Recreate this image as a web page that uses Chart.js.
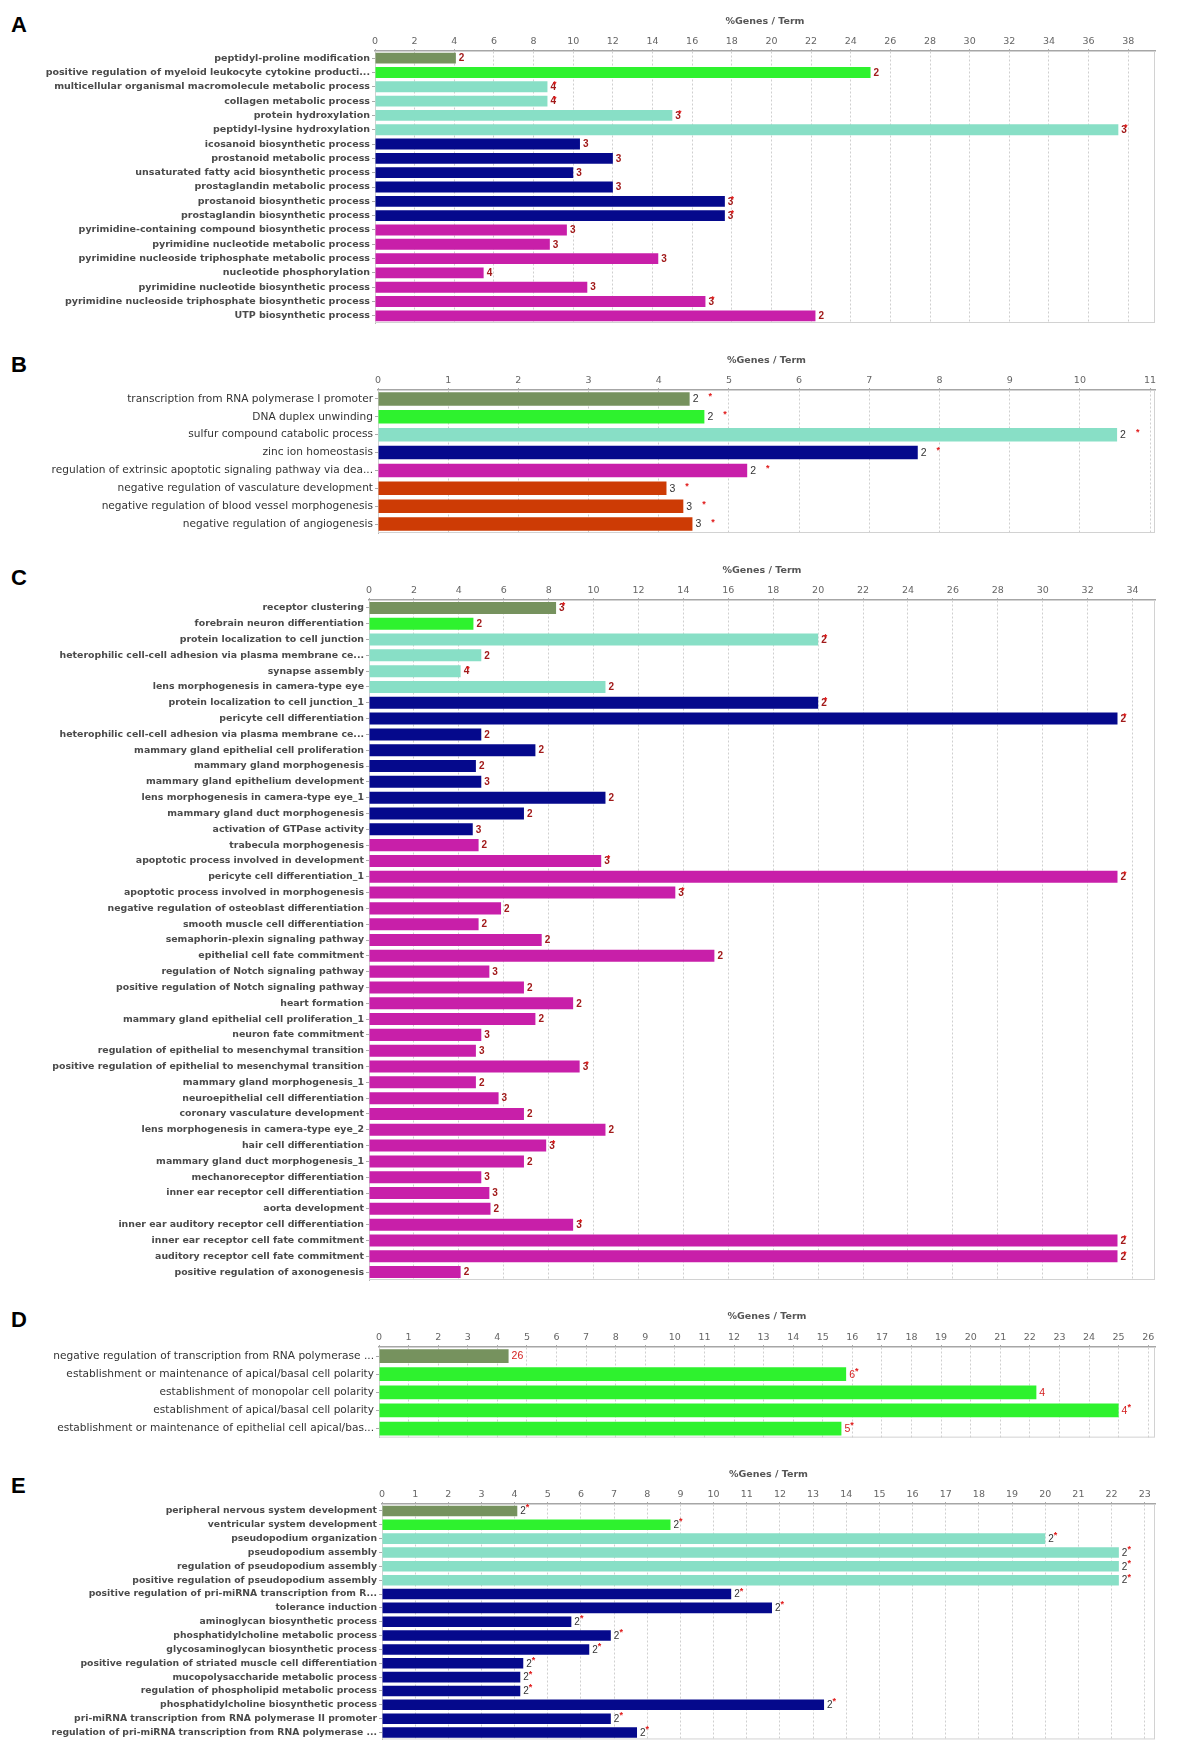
<!DOCTYPE html>
<html>
<head>
<meta charset="utf-8">
<title>GO term enrichment</title>
<script src="https://cdn.jsdelivr.net/npm/chart.js@4.4.1/dist/chart.umd.min.js"></script>
<style>
    html, body { margin: 0; padding: 0; background: #fff; }
    #page { position: relative; width: 1177px; height: 1747px; overflow: hidden; }
    .panel { position: absolute; left: 0; }
    .letter { position: absolute; left: 11px; font: bold 22px "Liberation Sans", Arial, sans-serif; line-height: 22px; color: #000; }
</style>
</head>
<body>
<div id="page">
    <div class="letter" style="top:14px">A</div>
    <div class="letter" style="top:354px">B</div>
    <div class="letter" style="top:567px">C</div>
    <div class="letter" style="top:1309px">D</div>
    <div class="letter" style="top:1475px">E</div>
    <canvas id="chartA" class="panel"></canvas>
    <canvas id="chartB" class="panel"></canvas>
    <canvas id="chartC" class="panel"></canvas>
    <canvas id="chartD" class="panel"></canvas>
    <canvas id="chartE" class="panel"></canvas>
</div>
<script>
// cluster index -> 0 olive, 1 green, 2 aqua, 3 navy, 4 magenta, 5 orange
const termsA = [
    "peptidyl-proline modification",
    "positive regulation of myeloid leukocyte cytokine producti...",
    "multicellular organismal macromolecule metabolic process",
    "collagen metabolic process",
    "protein hydroxylation",
    "peptidyl-lysine hydroxylation",
    "icosanoid biosynthetic process",
    "prostanoid metabolic process",
    "unsaturated fatty acid biosynthetic process",
    "prostaglandin metabolic process",
    "prostanoid biosynthetic process",
    "prostaglandin biosynthetic process",
    "pyrimidine-containing compound biosynthetic process",
    "pyrimidine nucleotide metabolic process",
    "pyrimidine nucleoside triphosphate metabolic process",
    "nucleotide phosphorylation",
    "pyrimidine nucleotide biosynthetic process",
    "pyrimidine nucleoside triphosphate biosynthetic process",
    "UTP biosynthetic process",
];
const valuesA = [4.08, 25.0, 8.7, 8.7, 15.0, 37.5, 10.34, 12.0, 10.0, 12.0, 17.65, 17.65, 9.68, 8.82, 14.29, 5.48, 10.71, 16.67, 22.22];
const countsA = [2, 2, 4, 4, 3, 3, 3, 3, 3, 3, 3, 3, 3, 3, 3, 4, 3, 3, 2];
const starsA = [0, 0, 1, 1, 1, 1, 0, 0, 0, 0, 1, 1, 0, 0, 0, 0, 0, 1, 0];
const clusterA = [0, 1, 2, 2, 2, 2, 3, 3, 3, 3, 3, 3, 4, 4, 4, 4, 4, 4, 4];

const termsB = [
    "transcription from RNA polymerase I promoter",
    "DNA duplex unwinding",
    "sulfur compound catabolic process",
    "zinc ion homeostasis",
    "regulation of extrinsic apoptotic signaling pathway via dea...",
    "negative regulation of vasculature development",
    "negative regulation of blood vessel morphogenesis",
    "negative regulation of angiogenesis",
];
const valuesB = [4.44, 4.65, 10.53, 7.69, 5.26, 4.11, 4.35, 4.48];
const countsB = [2, 2, 2, 2, 2, 3, 3, 3];
const starsB = [1, 1, 1, 1, 1, 1, 1, 1];
const clusterB = [0, 1, 2, 3, 4, 5, 5, 5];

const termsC = [
    "receptor clustering",
    "forebrain neuron differentiation",
    "protein localization to cell junction",
    "heterophilic cell-cell adhesion via plasma membrane ce...",
    "synapse assembly",
    "lens morphogenesis in camera-type eye",
    "protein localization to cell junction_1",
    "pericyte cell differentiation",
    "heterophilic cell-cell adhesion via plasma membrane ce...",
    "mammary gland epithelial cell proliferation",
    "mammary gland morphogenesis",
    "mammary gland epithelium development",
    "lens morphogenesis in camera-type eye_1",
    "mammary gland duct morphogenesis",
    "activation of GTPase activity",
    "trabecula morphogenesis",
    "apoptotic process involved in development",
    "pericyte cell differentiation_1",
    "apoptotic process involved in morphogenesis",
    "negative regulation of osteoblast differentiation",
    "smooth muscle cell differentiation",
    "semaphorin-plexin signaling pathway",
    "epithelial cell fate commitment",
    "regulation of Notch signaling pathway",
    "positive regulation of Notch signaling pathway",
    "heart formation",
    "mammary gland epithelial cell proliferation_1",
    "neuron fate commitment",
    "regulation of epithelial to mesenchymal transition",
    "positive regulation of epithelial to mesenchymal transition",
    "mammary gland morphogenesis_1",
    "neuroepithelial cell differentiation",
    "coronary vasculature development",
    "lens morphogenesis in camera-type eye_2",
    "hair cell differentiation",
    "mammary gland duct morphogenesis_1",
    "mechanoreceptor differentiation",
    "inner ear receptor cell differentiation",
    "aorta development",
    "inner ear auditory receptor cell differentiation",
    "inner ear receptor cell fate commitment",
    "auditory receptor cell fate commitment",
    "positive regulation of axonogenesis",
];
const valuesC = [8.33, 4.65, 20.0, 5.0, 4.08, 10.53, 20.0, 33.33, 5.0, 7.41,
    4.76, 5.0, 10.53, 6.9, 4.62, 4.88, 10.34, 33.33, 13.64, 5.88,
    4.88, 7.69, 15.38, 5.36, 6.9, 9.09, 7.41, 5.0, 4.76, 9.38,
    4.76, 5.77, 6.9, 10.53, 7.89, 6.9, 5.0, 5.36, 5.41, 9.09,
    33.33, 33.33, 4.08];
const countsC = [3, 2, 2, 2, 4, 2, 2, 2, 2, 2,
    2, 3, 2, 2, 3, 2, 3, 2, 3, 2,
    2, 2, 2, 3, 2, 2, 2, 3, 3, 3,
    2, 3, 2, 2, 3, 2, 3, 3, 2, 3,
    2, 2, 2];
const starsC = [1, 0, 1, 0, 1, 0, 1, 1, 0, 0,
    0, 0, 0, 0, 0, 0, 1, 1, 1, 0,
    0, 0, 0, 0, 0, 0, 0, 0, 0, 1,
    0, 0, 0, 0, 1, 0, 0, 0, 0, 1,
    1, 1, 0];
const clusterC = [0, 1, 2, 2, 2, 2, 3, 3, 3, 3,
    3, 3, 3, 3, 3, 4, 4, 4, 4, 4,
    4, 4, 4, 4, 4, 4, 4, 4, 4, 4,
    4, 4, 4, 4, 4, 4, 4, 4, 4, 4,
    4, 4, 4];

const termsD = [
    "negative regulation of transcription from RNA polymerase ...",
    "establishment or maintenance of apical/basal cell polarity",
    "establishment of monopolar cell polarity",
    "establishment of apical/basal cell polarity",
    "establishment or maintenance of epithelial cell apical/bas...",
];
const valuesD = [4.38, 15.79, 22.22, 25.0, 15.63];
const countsD = [26, 6, 4, 4, 5];
const starsD = [0, 1, 0, 1, 1];
const clusterD = [0, 1, 1, 1, 1];

const termsE = [
    "peripheral nervous system development",
    "ventricular system development",
    "pseudopodium organization",
    "pseudopodium assembly",
    "regulation of pseudopodium assembly",
    "positive regulation of pseudopodium assembly",
    "positive regulation of pri-miRNA transcription from R...",
    "tolerance induction",
    "aminoglycan biosynthetic process",
    "phosphatidylcholine metabolic process",
    "glycosaminoglycan biosynthetic process",
    "positive regulation of striated muscle cell differentiation",
    "mucopolysaccharide metabolic process",
    "regulation of phospholipid metabolic process",
    "phosphatidylcholine biosynthetic process",
    "pri-miRNA transcription from RNA polymerase II promoter",
    "regulation of pri-miRNA transcription from RNA polymerase ...",
];
const valuesE = [4.08, 8.7, 20.0, 22.22, 22.22, 22.22, 10.53, 11.76, 5.71, 6.9, 6.25, 4.26, 4.17, 4.17, 13.33, 6.9, 7.69];
const countsE = [2, 2, 2, 2, 2, 2, 2, 2, 2, 2, 2, 2, 2, 2, 2, 2, 2];
const starsE = [1, 1, 1, 1, 1, 1, 1, 1, 1, 1, 1, 1, 1, 1, 1, 1, 1];
const clusterE = [0, 1, 2, 2, 2, 2, 3, 3, 3, 3, 3, 3, 3, 3, 3, 3, 3];

const axisTitle = "%Genes / Term";

const clusterColors = ["#76925e", "#2ef22e", "#88dfc6", "#05098c", "#c81fa9", "#cd3b05"];

const plotFrame = {
    id: "plotFrame",
    beforeDatasetsDraw(chart) {
        const { ctx, chartArea: a } = chart;
        ctx.save();
        ctx.strokeStyle = "#d2d2d2";
        ctx.lineWidth = 1;
        ctx.strokeRect(a.left + 0.5, a.top + 0.5, a.right - a.left - 1, a.bottom - a.top - 1);
        ctx.restore();
    },
};

const barCounts = {
    id: "barCounts",
    afterDatasetsDraw(chart, args, opts) {
        const ctx = chart.ctx;
        const meta = chart.getDatasetMeta(0);
        ctx.save();
        ctx.textBaseline = "middle";
        ctx.textAlign = "left";
        meta.data.forEach((bar, i) => {
            const txt = String(opts.counts[i]);
            const x = bar.x + opts.gap;
            ctx.font = opts.font;
            ctx.fillStyle = opts.color;
            ctx.fillText(txt, x, bar.y + 0.5);
            if (opts.stars[i]) {
                const w = ctx.measureText(txt).width;
                ctx.font = opts.starFont;
                ctx.fillStyle = opts.starColor;
                ctx.fillText("*", x + w + opts.starGap, bar.y + opts.starDy);
            }
        });
        ctx.restore();
    },
};

function makePanel(id, p) {
    const canvas = document.getElementById(id);
    canvas.width = 1177;
    canvas.height = p.bottom - p.top;
    canvas.style.top = p.top + "px";

    new Chart(canvas, {
        type: "bar",
        data: {
            labels: p.terms,
            datasets: [
                {
                    data: p.values,
                    backgroundColor: p.cluster.map((c) => clusterColors[c]),
                    borderWidth: 0,
                    barPercentage: 0.76,
                    categoryPercentage: 1,
                },
            ],
        },
        options: {
            indexAxis: "y",
            responsive: false,
            animation: false,
            events: [],
            layout: {
                padding: { left: 0, top: 0, right: 1177 - p.plotRight, bottom: p.bottom - p.plotBottom },
            },
            plugins: {
                legend: { display: false },
                tooltip: { enabled: false },
                barCounts: {
                    counts: p.counts,
                    stars: p.stars,
                    font: p.countFont,
                    color: p.countColor,
                    gap: 3,
                    starFont: "bold 9px 'Liberation Sans', Arial, sans-serif",
                    starColor: "#e01818",
                    starGap: p.starGap,
                    starDy: p.starDy,
                },
            },
            scales: {
                x: {
                    position: "top",
                    min: 0,
                    max: p.max,
                    afterFit: (s) => {
                        s.height = p.plotTop - p.top;
                    },
                    ticks: {
                        stepSize: p.step,
                        includeBounds: false,
                        maxRotation: 0,
                        autoSkip: false,
                        padding: 2,
                        color: "#666",
                        font: { family: "'DejaVu Sans', sans-serif", size: 9.5 },
                    },
                    grid: { color: "#cfcfcf", tickLength: 2, tickColor: "#aaa" },
                    border: { display: true, color: "#a6a6a6", width: 1.5, dash: [2, 2] },
                    title: {
                        display: true,
                        text: axisTitle,
                        color: "#555",
                        padding: 0,
                        font: { family: "'DejaVu Sans', sans-serif", size: 9.5, weight: "bold" },
                    },
                },
                y: {
                    afterFit: (s) => {
                        s.width = p.plotLeft;
                    },
                    ticks: {
                        autoSkip: false,
                        padding: 2,
                        color: p.labelColor,
                        font: p.labelFont,
                    },
                    grid: { drawOnChartArea: false, offset: false, tickLength: 3, tickColor: "#aaa" },
                    border: { display: true, color: "#b4b4b4", width: 1 },
                },
            },
        },
        plugins: [plotFrame, barCounts],
    });
}

const boldLabel = (size) => ({ family: "'DejaVu Sans', sans-serif", size: size, weight: "bold" });
const plainLabel = (size) => ({ family: "'DejaVu Sans', sans-serif", size: size, weight: "normal" });

makePanel("chartA", {
    terms: termsA, values: valuesA, counts: countsA, stars: starsA, cluster: clusterA,
    top: 16, bottom: 332, plotTop: 51, plotBottom: 323, plotLeft: 375, plotRight: 1155,
    max: 39.35, step: 2, labelFont: boldLabel(9.5), labelColor: "#4a4a4a",
    countFont: "bold 10px 'Liberation Sans', Arial, sans-serif", countColor: "#a11a1a", starGap: -3, starDy: -2,
});
makePanel("chartB", {
    terms: termsB, values: valuesB, counts: countsB, stars: starsB, cluster: clusterB,
    top: 355, bottom: 542, plotTop: 390, plotBottom: 533, plotLeft: 378, plotRight: 1155,
    max: 11.07, step: 1, labelFont: plainLabel(10.6), labelColor: "#333",
    countFont: "10.5px 'Liberation Sans', Arial, sans-serif", countColor: "#333", starGap: 10, starDy: -2,
});
makePanel("chartC", {
    terms: termsC, values: valuesC, counts: countsC, stars: starsC, cluster: clusterC,
    top: 565, bottom: 1290, plotTop: 600, plotBottom: 1280, plotLeft: 369, plotRight: 1155,
    max: 35, step: 2, labelFont: boldLabel(9.4), labelColor: "#4a4a4a",
    countFont: "bold 10px 'Liberation Sans', Arial, sans-serif", countColor: "#a11a1a", starGap: -3, starDy: -2,
});
makePanel("chartD", {
    terms: termsD, values: valuesD, counts: countsD, stars: starsD, cluster: clusterD,
    top: 1311, bottom: 1446, plotTop: 1347, plotBottom: 1438, plotLeft: 379, plotRight: 1155,
    max: 26.23, step: 1, labelFont: plainLabel(10.6), labelColor: "#333",
    countFont: "10.5px 'Liberation Sans', Arial, sans-serif", countColor: "#d42020", starGap: 0, starDy: -3,
});
makePanel("chartE", {
    terms: termsE, values: valuesE, counts: countsE, stars: starsE, cluster: clusterE,
    top: 1469, bottom: 1747, plotTop: 1504, plotBottom: 1744, plotLeft: 382, plotRight: 1155,
    max: 23.31, step: 1, labelFont: boldLabel(9.25), labelColor: "#4a4a4a",
    countFont: "10px 'Liberation Sans', Arial, sans-serif", countColor: "#333", starGap: 0, starDy: -3,
});
</script>
</body>
</html>
